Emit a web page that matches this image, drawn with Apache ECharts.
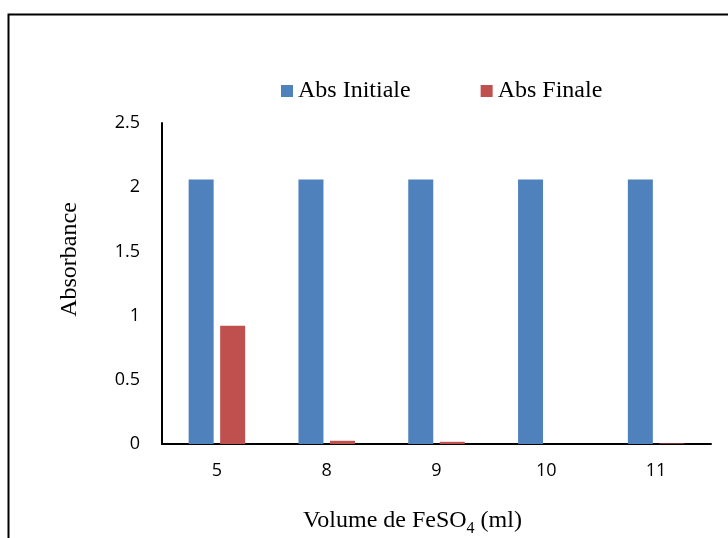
<!DOCTYPE html>
<html>
<head>
<meta charset="utf-8">
<script src="https://cdn.jsdelivr.net/npm/echarts@6/dist/echarts.min.js"></script>
<style>
  html, body { margin: 0; padding: 0; background: #fff; }
  #chart { width: 728px; height: 538px; }
</style>
</head>
<body>
<div id="chart"></div>
<script>
// Volume of FeSO4 added (ml)
const volumes = ['5', '8', '9', '10', '11'];
// Absorbance before and after treatment
const absInitiale = [2.06, 2.06, 2.06, 2.06, 2.06];
const absFinale = [0.92, 0.025, 0.017, 0, 0.005];
const yTicks = { min: 0, max: 2.5, step: 0.5 };

const serif = '"Liberation Serif", "Times New Roman", serif';
const sans = '"Open Sans", "Noto Sans", sans-serif';

const chart = echarts.init(document.getElementById('chart'), null, { renderer: 'canvas' });

chart.setOption({
  animation: false,
  backgroundColor: '#ffffff',
  graphic: [{
    type: 'rect',
    left: 6, top: 12,
    shape: { width: 760, height: 560 },
    style: { fill: 'none', stroke: '#000', lineWidth: 2 },
    silent: true
  }],
  legend: {
    left: 276, top: 74,
    itemWidth: 12, itemHeight: 12, itemGap: 70,
    icon: 'rect',
    textStyle: { fontFamily: serif, fontSize: 24, color: '#000' },
    data: ['Abs Initiale', 'Abs Finale']
  },
  grid: {
    left: 162, right: 17, top: 123, bottom: 94,
    containLabel: false,
    outerBoundsMode: 'none'
  },
  xAxis: {
    type: 'category',
    data: volumes,
    axisLine: { show: true, lineStyle: { color: '#000', width: 2 } },
    axisTick: { show: false },
    axisLabel: { color: '#000', fontSize: 18, fontFamily: sans, margin: 18 },
    name: '{a|Volume de FeSO}{s|4}{a| (ml)}',
    nameLocation: 'middle',
    nameGap: 61,
    nameTextStyle: {
      padding: [0, 48, 0, 0],
      rich: {
        a: { fontFamily: serif, fontSize: 24, color: '#000', lineHeight: 32 },
        s: { fontFamily: serif, fontSize: 16, color: '#000', verticalAlign: 'bottom', lineHeight: 16 }
      }
    }
  },
  yAxis: {
    type: 'value',
    min: yTicks.min, max: yTicks.max, interval: yTicks.step,
    axisLine: { show: true, lineStyle: { color: '#000', width: 2 } },
    axisTick: { show: false },
    splitLine: { show: false },
    axisLabel: { color: '#000', fontSize: 18, fontFamily: sans, margin: 22 },
    name: 'Absorbance',
    nameLocation: 'middle',
    nameGap: 80,
    nameRotate: 90,
    nameTextStyle: { fontFamily: serif, fontSize: 24, color: '#000', padding: [0, 0, 0, 48] }
  },
  series: [
    {
      name: 'Abs Initiale', type: 'bar', data: absInitiale,
      barWidth: 25, barGap: '26%',
      itemStyle: { color: '#4F81BD' }
    },
    {
      name: 'Abs Finale', type: 'bar', data: absFinale,
      barWidth: 25,
      itemStyle: { color: '#C0504D' }
    }
  ]
});
</script>
</body>
</html>
